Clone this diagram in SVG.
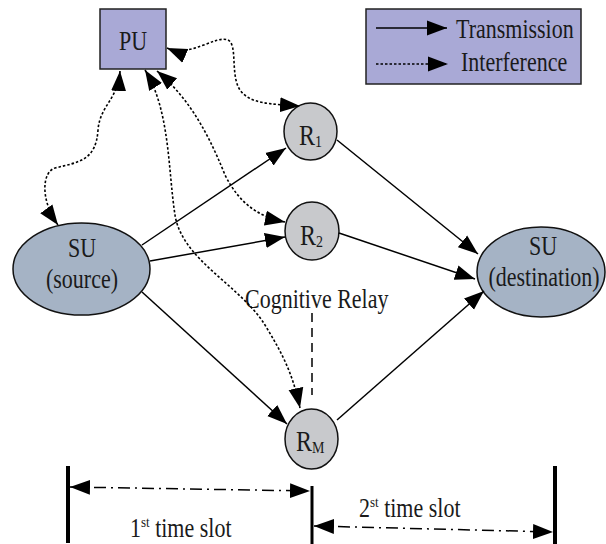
<svg xmlns="http://www.w3.org/2000/svg" width="606" height="544" viewBox="0 0 606 544">
<style>
text{font-family:'Liberation Serif','DejaVu Serif',serif;font-size:22px;fill:#1a1a1a}
.t{text-anchor:middle}
.rl{font-size:24px}
.tx{stroke:#000;stroke-width:1.5;fill:none}
.if{stroke:#000;stroke-width:1.6;fill:none;stroke-dasharray:2.5,2}
.dd{stroke:#000;stroke-width:1.5;fill:none;stroke-dasharray:12,5,2,5}
.bar{stroke:#000;fill:none}
.box{fill:#a9a9d6;stroke:#222;stroke-width:1.5}
.su{fill:#a5b3c5;stroke:#111;stroke-width:1.5}
.r{fill:#c8c9cc;stroke:#111;stroke-width:1.5}
</style>
<defs>
<marker id="ah" markerUnits="userSpaceOnUse" markerWidth="21" markerHeight="17" viewBox="0 0 21 17" refX="20" refY="8.5" orient="auto-start-reverse">
<path d="M0,1 L20,8.5 L0,16 z" fill="#000"/>
</marker>
</defs>

<g id="legend">
<rect class="box" x="366" y="9" width="215" height="75"/>
<line class="tx" x1="376" y1="28" x2="447" y2="28" marker-end="url(#ah)"/>
<line class="if" x1="376" y1="64" x2="448" y2="64" marker-end="url(#ah)"/>
<text transform="translate(456,38) scale(1,1.2)">Transmission</text>
<text transform="translate(461,71) scale(1,1.2)">Interference</text>
</g>

<g id="PU">
<rect class="box" x="100" y="9" width="66" height="60"/>
<text class="t" transform="translate(133,50) scale(1,1.2)">PU</text>
</g>

<g id="SU_source">
<ellipse class="su" cx="81.5" cy="269" rx="68.5" ry="46"/>
<text class="t" transform="translate(82,257) scale(1,1.2)">SU</text>
<text class="t" transform="translate(82,288) scale(1,1.2)">(source)</text>
</g>

<g id="SU_destination">
<ellipse class="su" cx="541" cy="272" rx="64" ry="45"/>
<text class="t" transform="translate(543,255) scale(1,1.2)">SU</text>
<text class="t" transform="translate(544,286) scale(1,1.2)">(destination)</text>
</g>

<g id="R1">
<ellipse class="r" cx="310.5" cy="131.5" rx="26.5" ry="28.5"/>
<text class="rl" transform="translate(299,145) scale(1,1.2)">R<tspan font-size="14" dy="2">1</tspan></text>
</g>

<g id="R2">
<ellipse class="r" cx="312" cy="231" rx="27" ry="29"/>
<text class="rl" transform="translate(300,245) scale(1,1.2)">R<tspan font-size="14" dy="2">2</tspan></text>
</g>

<g id="RM">
<ellipse class="r" cx="311.5" cy="439" rx="26.5" ry="30"/>
<text class="rl" transform="translate(296,451) scale(1,1.2)">R<tspan font-size="14" dy="2">M</tspan></text>
</g>

<g id="label_cognitive_relay">
<text transform="translate(245,308) scale(1,1.2)">Cognitive Relay</text>
</g>

<g id="connectors">
<line class="tx" x1="142" y1="245" x2="286" y2="148" marker-end="url(#ah)"/>
<line class="tx" x1="150" y1="261" x2="285" y2="237" marker-end="url(#ah)"/>
<line class="tx" x1="142" y1="292" x2="287" y2="424" marker-end="url(#ah)"/>
<line class="tx" x1="337" y1="140" x2="478" y2="254" marker-end="url(#ah)"/>
<line class="tx" x1="339" y1="233" x2="475" y2="279" marker-end="url(#ah)"/>
<line class="tx" x1="337" y1="420" x2="484" y2="291" marker-end="url(#ah)"/>

<path class="if" d="M120,71 C118,100 100,105 98,130 C96,160 80,162 55,168 C42,172 40,200 58,225" marker-start="url(#ah)" marker-end="url(#ah)"/>
<path class="if" d="M167,48 C190,58 215,35 228,40 C238,45 230,75 240,90 C250,104 270,104 300,106" marker-start="url(#ah)" marker-end="url(#ah)"/>
<path class="if" d="M145,70 C170,110 168,170 175,215 C182,260 240,285 265,325 C280,350 292,370 300,408" marker-start="url(#ah)" marker-end="url(#ah)"/>
<path class="if" d="M157,71 C185,95 205,125 225,175 C240,205 260,217 285,222" marker-start="url(#ah)" marker-end="url(#ah)"/>

<line class="tx" x1="312" y1="313" x2="312" y2="395" stroke-dasharray="9,6"/>

<line class="bar" x1="68" y1="466" x2="68" y2="543" stroke-width="4"/>
<line class="bar" x1="312" y1="486" x2="312" y2="544" stroke-width="3"/>
<line class="bar" x1="555" y1="466" x2="555" y2="544" stroke-width="4"/>
<line class="dd" x1="70" y1="487" x2="310" y2="491" marker-start="url(#ah)" marker-end="url(#ah)"/>
<line class="dd" x1="314" y1="526" x2="553" y2="532" marker-start="url(#ah)" marker-end="url(#ah)"/>
</g>

<g id="time_labels">
<text transform="translate(130,537) scale(1,1.2)">1<tspan font-size="13" dy="-8">st</tspan><tspan dy="8"> time slot</tspan></text>
<text transform="translate(359,517) scale(1,1.2)">2<tspan font-size="13" dy="-8">st</tspan><tspan dy="8"> time slot</tspan></text>
</g>
</svg>
